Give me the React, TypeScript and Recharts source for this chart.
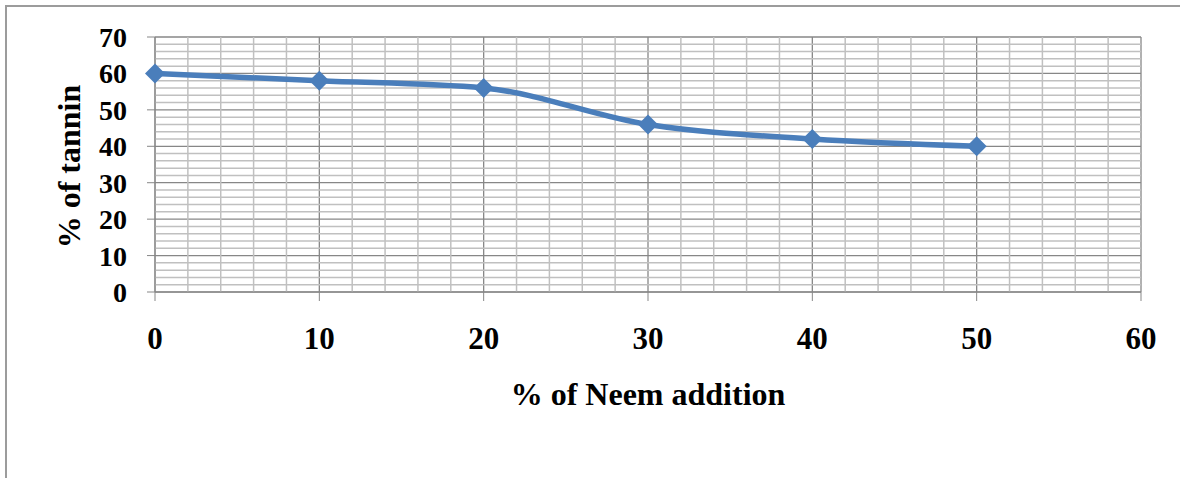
import { LineChart, Line, XAxis, YAxis, CartesianGrid, ReferenceLine, Label } from 'recharts';

const neemAddition = [0, 10, 20, 30, 40, 50];
const tanninPercent = [60, 58, 56, 46, 42, 40];

const xTicks = [0, 10, 20, 30, 40, 50, 60];
const yTicks = [0, 10, 20, 30, 40, 50, 60, 70];

// minor gridlines every 2 units (majors left out, CartesianGrid draws those)
const xMinor = [2, 4, 6, 8, 12, 14, 16, 18, 22, 24, 26, 28, 32, 34, 36, 38, 42, 44, 46, 48, 52, 54, 56, 58];
const yMinor = [2, 4, 6, 8, 12, 14, 16, 18, 22, 24, 26, 28, 32, 34, 36, 38, 42, 44, 46, 48, 52, 54, 56, 58, 62, 64, 66, 68];

const data = neemAddition.map((x, i) => ({ neem: x, tannin: tanninPercent[i] }));

const FONT = '"Liberation Serif", "Times New Roman", serif';
const LINE_BLUE = '#4A7EBB';
const MAJOR = '#878787';
const MINOR = '#C0C0C0';

const Diamond = (props: any) => {
  const { cx, cy } = props;
  if (cx == null || cy == null) return null;
  const r = 10;
  return (
    <polygon
      points={`${cx},${cy - r} ${cx + r},${cy} ${cx},${cy + r} ${cx - r},${cy}`}
      fill={LINE_BLUE}
    />
  );
};

const YTitle = (props: any) => {
  const vb = props.viewBox || {};
  const x = vb.x + 80;
  const y = vb.y + vb.height / 2 + 2;
  return (
    <text
      x={x}
      y={y}
      transform={`rotate(-90 ${x} ${y})`}
      textAnchor="middle"
      fontFamily={FONT}
      fontWeight="bold"
      fontSize={32}
      fill="#000"
    >
      % of tannin
    </text>
  );
};

const XTitle = (props: any) => {
  const vb = props.viewBox || {};
  const x = vb.x + vb.width / 2;
  const y = vb.y + 113;
  return (
    <text x={x} y={y} textAnchor="middle" fontFamily={FONT} fontWeight="bold" fontSize={32} fill="#000">
      % of Neem addition
    </text>
  );
};

export default function App() {
  return (
    <div style={{ position: 'absolute', left: 0, top: 0, width: 1180, height: 478, overflow: 'hidden', background: '#fff' }}>
      <div
        style={{
          position: 'absolute',
          left: 5,
          top: 5,
          width: 1300,
          height: 600,
          borderLeft: '2px solid #9C9C9C',
          borderTop: '2px solid #9C9C9C',
        }}
      />
      <LineChart
        width={1180}
        height={478}
        data={data}
        margin={{ top: 37, right: 39, left: 0, bottom: 0 }}
        style={{ position: 'absolute', left: 0, top: 0 }}
      >
        {xMinor.map((v) => (
          <ReferenceLine key={'vx' + v} x={v} stroke={MINOR} strokeWidth={1.5} />
        ))}
        {yMinor.map((v) => (
          <ReferenceLine key={'hy' + v} y={v} stroke={MINOR} strokeWidth={1.5} />
        ))}
        <CartesianGrid stroke={MAJOR} strokeWidth={1.3} />
        <XAxis
          dataKey="neem"
          type="number"
          domain={[0, 60]}
          ticks={xTicks}
          interval={0}
          height={186}
          stroke={MAJOR}
          tickSize={9}
          tickMargin={26}
          tick={{ fontFamily: FONT, fontWeight: 'bold', fontSize: 31, fill: '#000' }}
        >
          <Label content={<XTitle />} />
        </XAxis>
        <YAxis
          type="number"
          domain={[0, 70]}
          ticks={yTicks}
          interval={0}
          width={155}
          stroke={MAJOR}
          tickSize={8}
          tickMargin={20}
          tick={{ fontFamily: FONT, fontWeight: 'bold', fontSize: 28, fill: '#000' }}
        >
          <Label content={<YTitle />} />
        </YAxis>
        <Line
          type="monotone"
          dataKey="tannin"
          stroke={LINE_BLUE}
          strokeWidth={5.5}
          dot={<Diamond />}
          activeDot={false}
          isAnimationActive={false}
        />
      </LineChart>
    </div>
  );
}
